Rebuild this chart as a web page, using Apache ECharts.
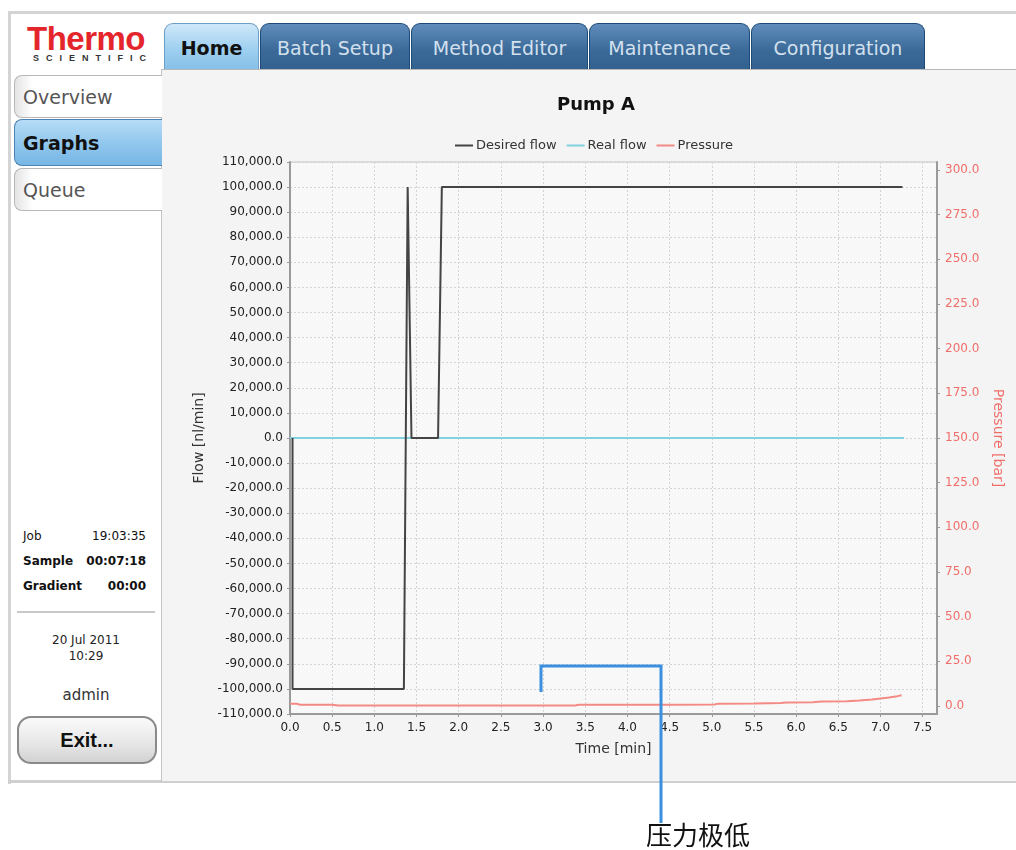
<!DOCTYPE html>
<html>
<head>
<meta charset="utf-8">
<script src="https://cdn.jsdelivr.net/npm/echarts@6/dist/echarts.min.js"></script>
<style>
  html,body{margin:0;padding:0;background:#fff;}
  body{width:1016px;height:850px;position:relative;overflow:hidden;font-family:"DejaVu Sans",sans-serif;}
  .abs{position:absolute;}
  .line{position:absolute;background:#d4d4d4;}
  .tab{position:absolute;top:23px;height:46px;border:1px solid #1e4a78;border-bottom:none;border-radius:9px 9px 0 0;
       background:linear-gradient(#5f8cbb,#3a6998 60%,#34628f);color:#d3e0ee;font-size:19px;line-height:48px;text-align:center;box-sizing:border-box;}
  .tab.active{background:linear-gradient(#cfe8f9,#9fd0f0 55%,#86c0e8);border-color:#6d9ec6;color:#111;font-weight:bold;}
  .side{position:absolute;left:14px;width:148px;border:1px solid #b8b8b8;border-right:none;border-radius:8px 0 0 8px;
        background:linear-gradient(90deg,#e4e4e4,#fff 12%,#fff);font-size:19px;color:#555;box-sizing:border-box;padding-left:8px;}
  .side.active{background:linear-gradient(#b6dcf6,#8cc4ec 60%,#78b6e4);border-color:#4d83b3;color:#111;font-weight:bold;}
  .stat{position:absolute;left:23px;width:123px;font-size:12px;color:#111;}
  .stat span{position:absolute;right:0;}
  #chart{position:absolute;left:0;top:0;width:1016px;height:850px;z-index:5;}
</style>
</head>
<body>
<!-- frame -->
<div class="line" style="left:8px;top:11px;width:1008px;height:3px;"></div>
<div class="line" style="left:8px;top:11px;width:3px;height:773px;"></div>
<div class="line" style="left:8px;top:780px;width:1008px;height:3px;background:#cfcfcf;"></div>
<div class="abs" style="left:161px;top:69px;width:855px;height:711px;background:#f4f4f4;border-left:1px solid #c4c4c4;border-top:1px solid #b8b8b8;"></div>

<!-- logo -->
<div class="abs" style="left:27px;top:19px;font-family:'Liberation Sans',Arial,sans-serif;font-weight:bold;font-size:33px;color:#e4252c;letter-spacing:-0.5px;line-height:40px;">Thermo</div>
<div class="abs" style="left:33px;top:53px;font-family:'Liberation Sans',Arial,sans-serif;font-weight:bold;font-size:9px;color:#333;letter-spacing:7px;line-height:11px;">SCIENTIFIC</div>

<!-- tabs -->
<div class="tab active" style="left:164px;width:95px;">Home</div>
<div class="tab" style="left:260px;width:150px;">Batch Setup</div>
<div class="tab" style="left:411px;width:177px;">Method Editor</div>
<div class="tab" style="left:589px;width:161px;">Maintenance</div>
<div class="tab" style="left:751px;width:174px;">Configuration</div>

<!-- side buttons -->
<div class="side" style="top:75px;height:43px;line-height:43px;">Overview</div>
<div class="side active" style="top:119px;height:47px;line-height:47px;">Graphs</div>
<div class="side" style="top:168px;height:43px;line-height:43px;">Queue</div>

<!-- status -->
<div class="stat" style="top:529px;">Job<span>19:03:35</span></div>
<div class="stat" style="top:554px;font-weight:bold;">Sample<span>00:07:18</span></div>
<div class="stat" style="top:579px;font-weight:bold;">Gradient<span>00:00</span></div>
<div class="abs" style="left:17px;top:611px;width:138px;height:2px;background:#c9c9c9;"></div>
<div class="abs" style="left:17px;top:632px;width:138px;text-align:center;font-size:12px;color:#222;line-height:16px;">20 Jul 2011<br>10:29</div>
<div class="abs" style="left:17px;top:686px;width:138px;text-align:center;font-size:15px;color:#333;">admin</div>
<div class="abs" style="left:17px;top:716px;width:140px;height:48px;box-sizing:border-box;border:2px solid #8a8a8a;border-radius:14px;background:linear-gradient(#fafafa,#e6e6e6 60%,#d2d2d2);font-family:'Liberation Sans',Arial,sans-serif;font-weight:bold;font-size:20px;line-height:44px;text-align:center;color:#111;">Exit...</div>

<div id="chart"></div>
<script>
// ---- data ----
const desiredTime = [0.03, 0.03, 1.35, 1.395, 1.44, 1.755, 1.80, 7.26];
const desiredFlow = [0, -100000, -100000, 100000, 0, 0, 100000, 100000];
const realTime = [0.0, 7.28];
const realFlow = [0, 0];
const pressureTime = [0.0, 0.08, 0.12, 0.5, 0.57, 1.0, 2.0, 3.0, 3.38, 3.42, 4.0, 4.5, 5.03, 5.08, 5.5, 5.82, 5.88, 6.2, 6.3, 6.6, 6.75, 6.9, 7.0, 7.1, 7.2, 7.25];
const pressure = [1.2, 1.2, 0.7, 0.7, 0.2, 0.2, 0.2, 0.2, 0.3, 0.7, 0.7, 0.7, 0.8, 1.3, 1.4, 1.6, 2.0, 2.1, 2.5, 2.6, 3.0, 3.6, 4.2, 4.8, 5.5, 6.0];
const pressureTicks = [0, 25, 50, 75, 100, 125, 150, 175, 200, 225, 250, 275, 300];
const seriesNames = ['Desired flow', 'Real flow', 'Pressure'];
const chartTitle = 'Pump A';
const annotationText = '压力极低';

const FONT = '"DejaVu Sans", sans-serif';
function fmtThousands(v) {
  const neg = v < 0; const s = Math.abs(v).toFixed(1);
  const [i, d] = s.split('.');
  return (neg ? '-' : '') + i.replace(/\B(?=(\d{3})+(?!\d))/g, ',') + '.' + d;
}
const zip = (a, b) => a.map((x, i) => [x, b[i]]);

const chart = echarts.init(document.getElementById('chart'), null, {renderer: 'canvas'});
chart.setOption({
  animation: false,
  backgroundColor: 'transparent',
  title: {
    text: chartTitle, left: 591, top: 91, textAlign: 'center',
    textStyle: {fontFamily: FONT, fontSize: 18, fontWeight: 'bold', color: '#111'}
  },
  legend: {
    data: seriesNames, left: 450, top: 134, icon: 'rect', itemWidth: 18, itemHeight: 2, itemGap: 10,
    textStyle: {fontFamily: FONT, fontSize: 13, color: '#333', padding: [0, 0, 0, -2]}
  },
  grid: {
    left: 290, top: 162, width: 647, height: 552, show: true,
    backgroundColor: '#f8f8f8', borderColor: '#c4c4c4', borderWidth: 1
  },
  xAxis: {
    type: 'value', min: 0, max: 7.67, interval: 0.5,
    name: 'Time [min]', nameLocation: 'middle', nameGap: 28,
    nameTextStyle: {fontFamily: FONT, fontSize: 14, color: '#333'},
    axisLine: {show: true, onZero: false, lineStyle: {color: '#9a9a9a', width: 2}},
    axisTick: {show: true, length: 3, lineStyle: {color: '#9a9a9a'}},
    axisLabel: {showMaxLabel: false, formatter: v => v.toFixed(1), fontFamily: FONT, fontSize: 12, color: '#222', margin: 8},
    splitLine: {show: true, lineStyle: {color: '#d4d4d4', type: [2, 2]}}
  },
  yAxis: [{
    type: 'value', min: -110000, max: 110000, interval: 10000, position: 'left',
    name: 'Flow [nl/min]', nameLocation: 'middle', nameGap: 84,
    nameTextStyle: {fontFamily: FONT, fontSize: 14, color: '#333'},
    axisLine: {show: true, onZero: false, lineStyle: {color: '#9a9a9a', width: 2}},
    axisTick: {show: true, length: 3, lineStyle: {color: '#9a9a9a'}},
    axisLabel: {formatter: fmtThousands, fontFamily: FONT, fontSize: 12, color: '#222', margin: 7},
    splitLine: {show: true, lineStyle: {color: '#d4d4d4', type: [2, 2]}}
  }, {
    type: 'value', min: -4.5, max: 304.5, position: 'right',
    name: 'Pressure [bar]', nameLocation: 'middle', nameGap: 48, nameRotate: -90,
    nameTextStyle: {fontFamily: FONT, fontSize: 14, color: '#f06e6a'},
    axisLine: {show: true, onZero: false, lineStyle: {color: '#9a9a9a', width: 2}},
    axisTick: {show: true, length: 3, customValues: pressureTicks, lineStyle: {color: '#9a9a9a'}},
    axisLabel: {customValues: pressureTicks, formatter: v => v.toFixed(1), fontFamily: FONT, fontSize: 12, color: '#f06e6a', margin: 8},
    splitLine: {show: false}
  }],
  series: [{
    name: seriesNames[0], type: 'line', data: zip(desiredTime, desiredFlow), showSymbol: false, z: 4,
    lineStyle: {color: '#444444', width: 2}, itemStyle: {color: '#444444'}
  }, {
    name: seriesNames[1], type: 'line', data: zip(realTime, realFlow), showSymbol: false, z: 3,
    lineStyle: {color: '#7fd2de', width: 2}, itemStyle: {color: '#7fd2de'}
  }, {
    name: seriesNames[2], type: 'line', yAxisIndex: 1, data: zip(pressureTime, pressure), showSymbol: false, z: 3,
    lineStyle: {color: '#f38a84', width: 2}, itemStyle: {color: '#f38a84'}
  }],
  graphic: [{
    type: 'polyline', z: 100,
    shape: {points: [[541, 692], [541, 666], [661, 666], [661, 823]]},
    style: {stroke: '#3a8fe0', lineWidth: 3, fill: null}
  }, {
    type: 'text', z: 100, left: 646, top: 822,
    style: {text: annotationText, font: '26px "Noto Sans CJK SC", sans-serif', fill: '#111'}
  }]
});
</script>
</body>
</html>
